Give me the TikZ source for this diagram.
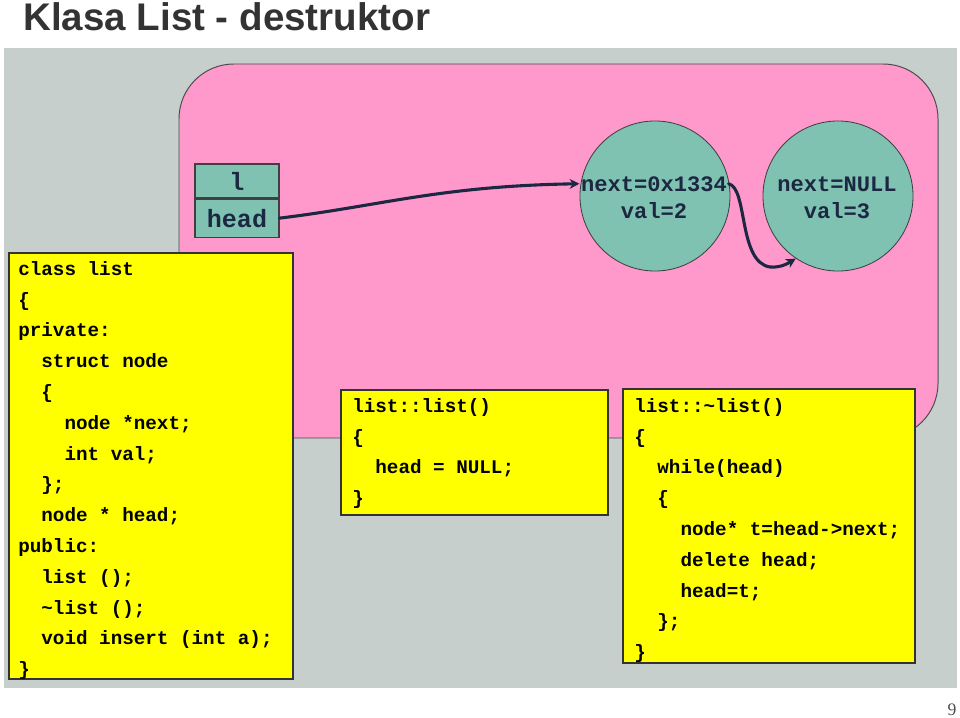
\documentclass[tikz,border=0pt]{standalone}
\usepackage{fontspec}
\setmainfont{Liberation Serif}
\setsansfont{Liberation Sans}
\setmonofont{Liberation Mono}
\usepackage{tikz}
\usetikzlibrary{arrows.meta, positioning}

\definecolor{bggray}{RGB}{198,207,204}
\definecolor{pinkarea}{RGB}{255,153,204}
\definecolor{nodeteal}{RGB}{128,194,178}
\definecolor{navy}{RGB}{28,40,66}
\definecolor{titlegray}{RGB}{51,51,51}
\definecolor{codeyellow}{RGB}{255,255,0}

\newcommand{\codefont}{\ttfamily\bfseries\fontsize{13.7}{21.9}\selectfont}
\newcommand{\ellfont}{\ttfamily\bfseries\fontsize{15.7}{19}\selectfont}

\tikzset{
    codebox/.style={fill=codeyellow, draw=black!80, line width=0.8pt},
    code/.style={font=\codefont, align=left, anchor=north west, inner sep=0pt},
    ptrbox/.style={fill=nodeteal, draw=black!75, line width=0.8pt, minimum width=2.1cm, inner sep=0pt, text=navy, font=\ttfamily\bfseries\fontsize{17.8}{20}\selectfont},
    listnode/.style={circle, fill=nodeteal, draw=black!75, line width=0.6pt, minimum size=3.75cm, inner sep=0pt},
    elltext/.style={font=\ellfont, text=navy, anchor=base, inner sep=1pt},
    link/.style={draw=navy, line width=2.2pt, line cap=round, -{Stealth[length=7pt, width=7pt]}}
}

\begin{document}
\begin{tikzpicture}[x=0.025cm, y=-0.025cm]
    \useasboundingbox (0,0) rectangle (960,717);

    % Title
    \node[anchor=base west, inner sep=0pt, text=titlegray, font=\sffamily\bfseries\fontsize{27.4}{30}\selectfont] (title) at (23,30) {Klasa List - destruktor};

    % Background panel
    \fill[bggray] (4,48) rectangle (957,688);

    % Object area
    \draw[fill=pinkarea, draw=black!70, line width=0.7pt, rounded corners=39pt] (179,64) rectangle (938,438);

    % Variable l with head
    \node[ptrbox, minimum height=0.85cm] (lbox) at (237,181) {l};
    \node[ptrbox, minimum height=0.95cm, below=0pt of lbox] (headbox) {head};

    % List nodes
    \node[listnode] (e1) at (655,196) {};
    \node[listnode] (e2) at (838,196) {};
    \node[elltext] (e1next) at (654,191) {next=0x1334};
    \node[elltext] (e1val) at (654,218) {val=2};
    \node[elltext] (e2next) at (837,191) {next=NULL};
    \node[elltext] (e2val) at (837,218) {val=3};

    % Pointers
    \draw[link] (headbox.east) .. controls (380,206) and (440,186) .. (e1next.west);
    \draw[link] (e1next.east) .. controls (748,188) and (738,262) .. (770,267)
        .. controls (782,268) and (790,262) .. (e2.236);

    % Class declaration
    \draw[codebox] (9,253) rectangle (293,679);
    \node[code] (clscode) at (18,253.5) {\strut class list\\
        \{\\
        private:\\
        ~~struct node\\
        ~~\{\\
        ~~~~node *next;\\
        ~~~~int val;\\
        ~~\};\\
        ~~node * head;\\
        public:\\
        ~~list ();\\
        ~~\textasciitilde list ();\\
        ~~void insert (int a);\\
        \}};

    % Constructor
    \draw[codebox] (341,390) rectangle (608,515);
    \node[code] (ctorcode) at (352,390.5) {\strut list::list()\\
        \{\\
        ~~head = NULL;\\
        \}};

    % Destructor
    \draw[codebox] (623,389) rectangle (915,663);
    \node[code] (dtorcode) at (634,390.5) {\strut list::\textasciitilde list()\\
        \{\\
        ~~while(head)\\
        ~~\{\\
        ~~~~node* t=head->next;\\
        ~~~~delete head;\\
        ~~~~head=t;\\
        ~~\};\\
        \}};

    % Page number
    \node[anchor=base, inner sep=0pt, text=black!70, font=\fontsize{12.5}{14}\selectfont] (pagenum) at (952,715) {9};
\end{tikzpicture}
\end{document}
